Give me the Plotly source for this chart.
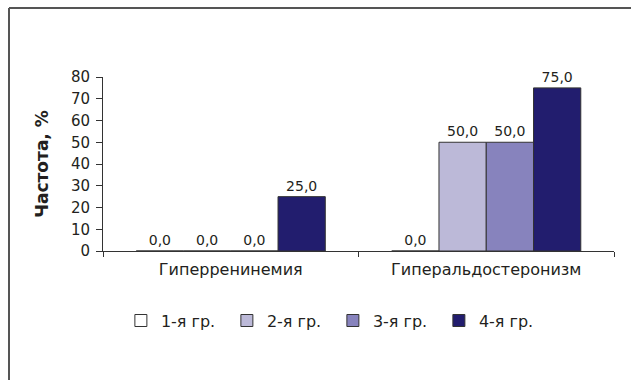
import plotly.graph_objects as go

categories = ["Гиперренинемия", "Гиперальдостеронизм"]
series_names = ["1-я гр.", "2-я гр.", "3-я гр.", "4-я гр."]
group1 = [0.0, 0.0]
group2 = [0.0, 50.0]
group3 = [0.0, 50.0]
group4 = [25.0, 75.0]
series_values = [group1, group2, group3, group4]
colors = ["#FFFFFF", "#BCB9D8", "#8783BD", "#221D6E"]
y_ticks = [0, 10, 20, 30, 40, 50, 60, 70, 80]

FONT = "DejaVu Sans"
TXT = "#231F20"

fig = go.Figure()
for name, vals, col in zip(series_names, series_values, colors):
    fig.add_trace(go.Bar(
        x=categories, y=vals, name=name,
        marker=dict(color=col, line=dict(color="#333333", width=1)),
        texttemplate="%{y:.1f}", textposition="outside",
        textfont=dict(family=FONT, size=14, color=TXT),
        cliponaxis=False,
    ))

fig.update_layout(
    width=631, height=380,
    margin=dict(l=103, r=17, t=77, b=129, autoexpand=False),
    paper_bgcolor="white", plot_bgcolor="white",
    separators=", ",
    barmode="group", bargap=0.26, bargroupgap=0,
    font=dict(family=FONT, size=14, color=TXT),
    showlegend=True,
    legend=dict(orientation="h", x=0.035, xanchor="left", y=-0.40, yanchor="middle",
                font=dict(family=FONT, size=16, color=TXT),
                entrywidth=61, entrywidthmode="pixels", itemwidth=30,
                bgcolor="rgba(0,0,0,0)"),
    xaxis=dict(type="category", showline=True, linecolor="#333333", linewidth=1,
               ticks="outside", tickson="boundaries", ticklen=5, tickcolor="#333333",
               showgrid=False, tickfont=dict(family=FONT, size=16, color=TXT),
               ticklabelstandoff=4),
    yaxis=dict(range=[0, 80], tickvals=y_ticks, showline=True, linecolor="#333333",
               linewidth=1, ticks="outside", ticklen=6, tickcolor="#333333",
               showgrid=False, zeroline=False, ticklabelstandoff=3,
               tickfont=dict(family=FONT, size=15, color=TXT),
               title=dict(text="<b>Частота, %</b>", standoff=17,
                          font=dict(family=FONT, size=17, color=TXT))),
    shapes=[
        dict(type="line", xref="paper", yref="paper",
             x0=(9 - 103) / 511, x1=(640 - 103) / 511,
             y0=(251 - 8) / 174, y1=(251 - 8) / 174,
             line=dict(color="#555555", width=2)),
        dict(type="line", xref="paper", yref="paper",
             x0=(9 - 103) / 511, x1=(9 - 103) / 511,
             y0=(251 - 8) / 174, y1=(251 - 390) / 174,
             line=dict(color="#555555", width=2)),
    ],
)

fig.write_html("out.html", config={"displayModeBar": False},
               post_script="document.body.style.margin='0';document.body.style.overflow='hidden';")
